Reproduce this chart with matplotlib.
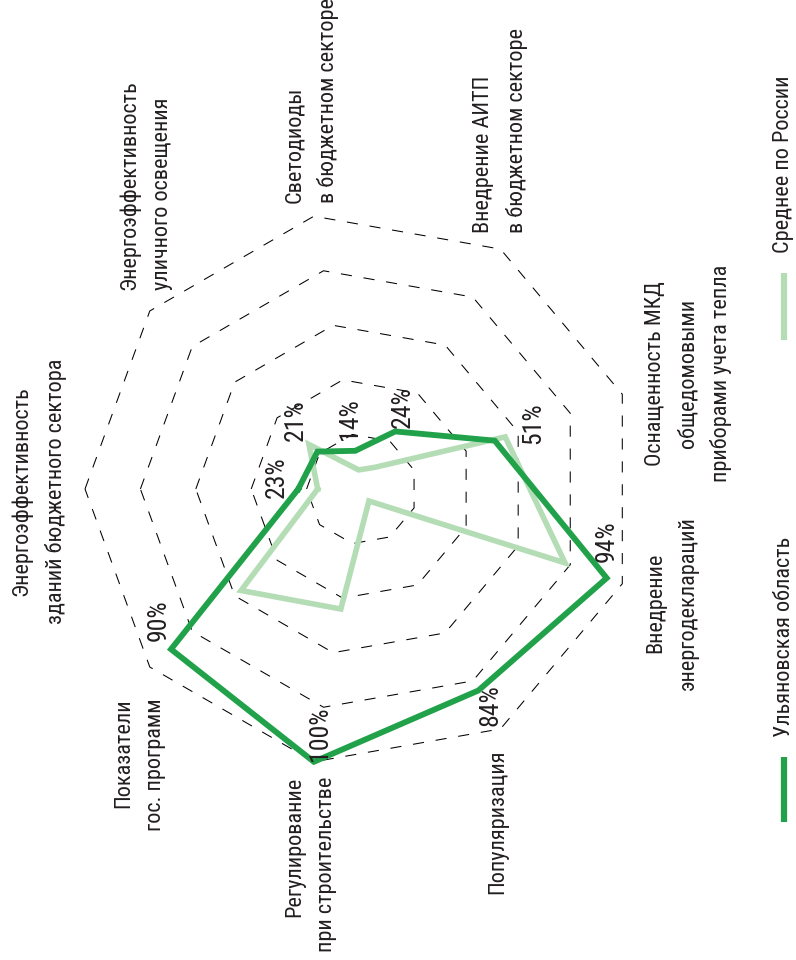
import numpy as np
import matplotlib as mpl
mpl.use('Agg')
import matplotlib.pyplot as pl

# axes go clockwise starting from the left one (chart is turned 90 deg)
labels = ['Энергоэффективность\nзданий бюджетного сектора',
          'Энергоэффективность\nуличного освещения',
          'Светодиоды\nв бюджетном секторе',
          'Внедрение АИТП\nв бюджетном секторе',
          'Оснащенность МКД\nобщедомовыми\nприборами учета тепла',
          'Внедрение\nэнергодеклараций',
          'Популяризация',
          'Регулирование\nпри строительстве',
          'Показатели\nгос. программ']
ulyanovsk = [23, 21, 14, 24, 51, 94, 84, 100, 90]
russia = [16, 25, 7, 9, 55, 78, 5, 44, 57]
pct_labels = ['23%', '21%', '14%', '24%', '51%', '94%', '84%', '100%', '90%']
grid_levels = [20, 40, 60, 80, 100]
legend_names = ['Среднее по России', 'Ульяновская область']

dark = '#21a24a'
light = '#b4ddb6'

mpl.rcParams['font.family'] = ['Roboto Condensed', 'PT Sans Narrow', 'DejaVu Sans']
mpl.rcParams['lines.scale_dashes'] = False

n = len(labels)
ang = np.deg2rad(180 - 40 * np.arange(n))
cx, cy = np.cos(ang), np.sin(ang)

def closed(v):
    v = np.asarray(v, float) / 100.
    return np.append(v * cx, v[0] * cx[0]), np.append(v * cy, v[0] * cy[0])

f = pl.figure(figsize=(7.96, 9.6), dpi=100)
ax = f.add_axes([0, 0, 1, 1])
R = 277.
ax.set_xlim(-362 / R, (796 - 362) / R)
ax.set_ylim(-(960 - 489) / R, 489 / R)
ax.axis('off')

for g in grid_levels:
    x, y = closed([g] * n)
    ax.plot(x, y, color='k', lw=0.75, dashes=(8, 8.5), zorder=1)

x, y = closed(russia)
ax.plot(x, y, color=light, lw=4, solid_joinstyle='miter', zorder=2)
x, y = closed(ulyanovsk)
ax.plot(x, y, color=dark, lw=4.2, solid_joinstyle='miter', zorder=3)

fs = 16
tc = '#231f20'
# percent labels, offsets in pixels from the vertex
pct_off = [(-22, 12), (-22, 31), (-5, 32), (8, 24), (38, 17), (0, 37), (12, -15), (6, 28), (-12, 29)]
for i in range(n):
    v = ulyanovsk[i] / 100.
    ax.annotate(pct_labels[i], (v * cx[i], v * cy[i]), xytext=pct_off[i], textcoords='offset pixels',
                rotation=90, ha='center', va='center', fontsize=18.5, color=tc, zorder=4)

# axis labels, offsets from the outer vertex
lab_off = [(-46, -2, 'center', 'center', 'center'),
           (-4, 21, 'center', 'bottom', 'left'),
           (-2, 13, 'center', 'bottom', 'left'),
           (0, 16, 'center', 'bottom', 'left'),
           (23, 21, 'left', 'center', 'center'),
           (23, -19, 'left', 'center', 'center'),
           (-3, -21, 'center', 'top', 'right'),
           (-3, -15, 'center', 'top', 'right'),
           (-10, -31, 'center', 'top', 'right')]
for i in range(n):
    dx, dy, ha, va, ma = lab_off[i]
    ax.annotate(labels[i], (cx[i], cy[i]), xytext=(dx, dy), textcoords='offset pixels',
                rotation=90, ha=ha, va=va, multialignment=ma, linespacing=1.7,
                fontsize=fs, color=tc)

# legend, drawn by hand at the right edge
leg_x = 784 / R - 362 / R
for name, col, y0, y1 in [(legend_names[0], light, 489 - 273, 489 - 340),
                          (legend_names[1], dark, 489 - 757, 489 - 822)]:
    ax.plot([leg_x, leg_x], [y0 / R, y1 / R], color=col, lw=4.5, solid_capstyle='butt')
    ax.text(leg_x, (y0 + 20) / R, name, rotation=90, ha='center', va='bottom',
            fontsize=fs, color=tc)

f.savefig('out.png', dpi=100)
